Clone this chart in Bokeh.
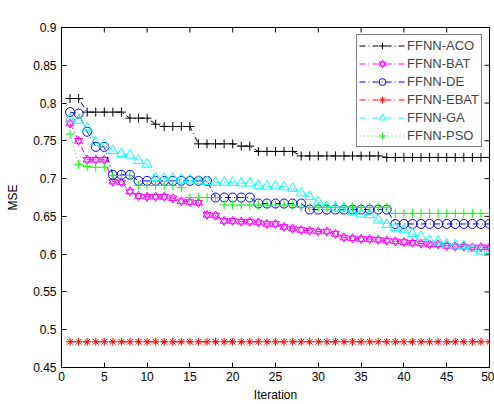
import math
from bokeh.plotting import figure
from bokeh.models import (FixedTicker, Legend, LegendItem, Label,
                          ColumnDataSource, Range1d)
from bokeh.embed import file_html
from bokeh.resources import INLINE

iterations = list(range(1, 51))

aco = [0.806, 0.806, 0.788, 0.788, 0.788, 0.788, 0.788, 0.780, 0.780, 0.780,
       0.772, 0.769, 0.769, 0.769, 0.769, 0.746, 0.746, 0.746, 0.746, 0.746,
       0.743, 0.743, 0.736, 0.736, 0.736, 0.736, 0.736, 0.730, 0.730, 0.730,
       0.730, 0.730, 0.730, 0.730, 0.730, 0.730, 0.730, 0.728, 0.728, 0.728,
       0.728, 0.728, 0.728, 0.728, 0.728, 0.728, 0.728, 0.728, 0.728, 0.728]

bat = [0.773, 0.750, 0.725, 0.725, 0.725, 0.696, 0.695, 0.683, 0.677, 0.676,
       0.676, 0.676, 0.674, 0.670, 0.669, 0.668, 0.652, 0.651, 0.644, 0.644,
       0.643, 0.643, 0.642, 0.640, 0.640, 0.636, 0.634, 0.632, 0.631, 0.630,
       0.630, 0.627, 0.622, 0.621, 0.620, 0.620, 0.619, 0.618, 0.617, 0.616,
       0.615, 0.614, 0.613, 0.613, 0.611, 0.610, 0.610, 0.609, 0.609, 0.609]

de = [0.788, 0.786, 0.762, 0.742, 0.742, 0.705, 0.705, 0.705, 0.697, 0.697,
      0.697, 0.697, 0.697, 0.697, 0.697, 0.697, 0.697, 0.675, 0.675, 0.675,
      0.675, 0.675, 0.667, 0.667, 0.667, 0.667, 0.667, 0.667, 0.659, 0.659,
      0.659, 0.659, 0.659, 0.659, 0.659, 0.659, 0.659, 0.659, 0.640, 0.640,
      0.640, 0.640, 0.640, 0.640, 0.640, 0.640, 0.640, 0.640, 0.640, 0.640]

ebat = [0.484] * 50

ga = [0.779, 0.777, 0.767, 0.748, 0.745, 0.737, 0.733, 0.731, 0.724, 0.719,
      0.701, 0.700, 0.700, 0.699, 0.698, 0.697, 0.696, 0.695, 0.695, 0.695,
      0.694, 0.694, 0.691, 0.690, 0.690, 0.689, 0.687, 0.681, 0.676, 0.669,
      0.663, 0.662, 0.661, 0.656, 0.653, 0.652, 0.645, 0.639, 0.635, 0.632,
      0.627, 0.623, 0.618, 0.617, 0.613, 0.612, 0.611, 0.607, 0.604, 0.602]

pso = [0.759, 0.719, 0.716, 0.715, 0.715, 0.704, 0.704, 0.704, 0.691, 0.691,
       0.691, 0.691, 0.691, 0.688, 0.675, 0.675, 0.675, 0.675, 0.665, 0.665,
       0.665, 0.665, 0.665, 0.665, 0.665, 0.665, 0.665, 0.662, 0.662, 0.662,
       0.662, 0.662, 0.662, 0.662, 0.662, 0.662, 0.662, 0.662, 0.654, 0.654,
       0.654, 0.654, 0.654, 0.654, 0.654, 0.654, 0.654, 0.654, 0.654, 0.654]

x_ticks = [0, 5, 10, 15, 20, 25, 30, 35, 40, 45, 50]
y_ticks = [0.45, 0.5, 0.55, 0.6, 0.65, 0.7, 0.75, 0.8, 0.85, 0.9]
y_tick_labels = ["0.45", "0.5", "0.55", "0.6", "0.65", "0.7", "0.75", "0.8", "0.85", "0.9"]
x_tick_labels = ["0", "5", "10", "15", "20", "25", "30", "35", "40", "45", "50"]
title_text = "Dataset: UK2011WebSpam"

FONT = "Liberation Sans"

p = figure(width=494, height=404,
           x_range=Range1d(x_ticks[0], x_ticks[-1]), y_range=Range1d(y_ticks[0], y_ticks[-1]),
           output_backend="svg", toolbar_location=None,
           min_border_left=61, min_border_right=5, min_border_top=27,
           min_border_bottom=37)
p.background_fill_color = "white"
p.border_fill_color = "white"
p.outline_line_color = "black"
p.xgrid.visible = False
p.ygrid.visible = False

def style_axis(ax, ticks, labels):
    ax.ticker = FixedTicker(ticks=ticks)
    ax.major_label_overrides = {t: l for t, l in zip(ticks, labels)}
    ax.major_tick_in = 5
    ax.major_tick_out = 0
    ax.minor_tick_in = 0
    ax.minor_tick_out = 0
    ax.axis_line_color = "black"
    ax.major_tick_line_color = "black"
    ax.major_label_text_font = FONT
    ax.major_label_text_font_size = "12px"
    ax.major_label_text_color = "black"
    ax.axis_label_text_font = FONT
    ax.axis_label_text_font_style = "normal"
    ax.axis_label_text_font_size = "12px"
    ax.axis_label_text_color = "black"

style_axis(p.xaxis[0], x_ticks, x_tick_labels)
style_axis(p.yaxis[0], y_ticks, y_tick_labels)
p.xaxis[0].axis_label = "Iteration"
p.yaxis[0].axis_label = "MSE"
p.xaxis[0].major_label_standoff = 4
p.yaxis[0].major_label_standoff = 5
p.xaxis[0].axis_label_standoff = 4
p.yaxis[0].axis_label_standoff = 10

# mirrored inward ticks on the right and top edges (clipped to the frame)
p.scatter(x=[x_ticks[-1]] * len(y_ticks), y=y_ticks, marker="dash", size=10,
          line_color="black", line_width=1)
p.scatter(x=x_ticks, y=[y_ticks[-1]] * len(x_ticks), marker="dash", size=10,
          angle=math.pi / 2, line_color="black", line_width=1)

src = ColumnDataSource(dict(x=iterations, aco=aco, bat=bat, de=de, ebat=ebat, ga=ga, pso=pso))

dashdot = "6 3 1 3"
items = []

# ACO
l = p.line("x", "aco", source=src, line_color="black", line_dash=dashdot, line_width=1)
m = p.scatter("x", "aco", source=src, marker="cross", size=9, line_color="black", line_width=1)
items.append(LegendItem(label="FFNN-ACO", renderers=[l, m]))

# BAT (hexagram drawn as up + down triangles)
l = p.line("x", "bat", source=src, line_color="#FF00FF", line_dash=dashdot, line_width=1)
m1 = p.scatter("x", "bat", source=src, marker="triangle", size=8, fill_color=None,
               line_color="#FF00FF", line_width=1)
m2 = p.scatter("x", "bat", source=src, marker="inverted_triangle", size=8, fill_color=None,
               line_color="#FF00FF", line_width=1)
items.append(LegendItem(label="FFNN-BAT", renderers=[l, m1, m2]))

# DE
l = p.line("x", "de", source=src, line_color="#0000FF", line_dash=dashdot, line_width=1)
m = p.scatter("x", "de", source=src, marker="circle", size=9, fill_color=None,
              line_color="#0000FF", line_width=1)
items.append(LegendItem(label="FFNN-DE", renderers=[l, m]))

# EBAT
l = p.line("x", "ebat", source=src, line_color="#FF0000", line_dash=dashdot, line_width=1)
m = p.scatter("x", "ebat", source=src, marker="asterisk", size=8,
              line_color="#FF0000", line_width=1)
items.append(LegendItem(label="FFNN-EBAT", renderers=[l, m]))

# GA
l = p.line("x", "ga", source=src, line_color="#00FFFF", line_dash=dashdot, line_width=1)
m = p.scatter("x", "ga", source=src, marker="triangle", size=10, fill_color=None,
              line_color="#00FFFF", line_width=1)
items.append(LegendItem(label="FFNN-GA", renderers=[l, m]))

# PSO
l = p.line("x", "pso", source=src, line_color="#00FF00", line_dash="1 3", line_width=1)
m = p.scatter("x", "pso", source=src, marker="cross", size=9, line_color="#00FF00", line_width=1)
items.append(LegendItem(label="FFNN-PSO", renderers=[l, m]))

legend = Legend(items=items, location="top_right")
legend.margin = 7
legend.padding = 2
legend.spacing = 1
legend.label_height = 17
legend.glyph_height = 17
legend.glyph_width = 46
legend.label_standoff = 2
legend.label_text_font = FONT
legend.label_text_font_size = "13px"
legend.border_line_color = "black"
legend.border_line_width = 1
legend.background_fill_color = "white"
legend.background_fill_alpha = 1
p.add_layout(legend, "center")

title = Label(x=(x_ticks[0] + x_ticks[-1]) / 2, y=y_ticks[-1], text=title_text,
              text_align="center", text_baseline="alphabetic",
              y_offset=9, text_font=FONT, text_font_size="13px", text_color="black")
p.add_layout(title)

open("out.html", "w").write(file_html(p, INLINE))
